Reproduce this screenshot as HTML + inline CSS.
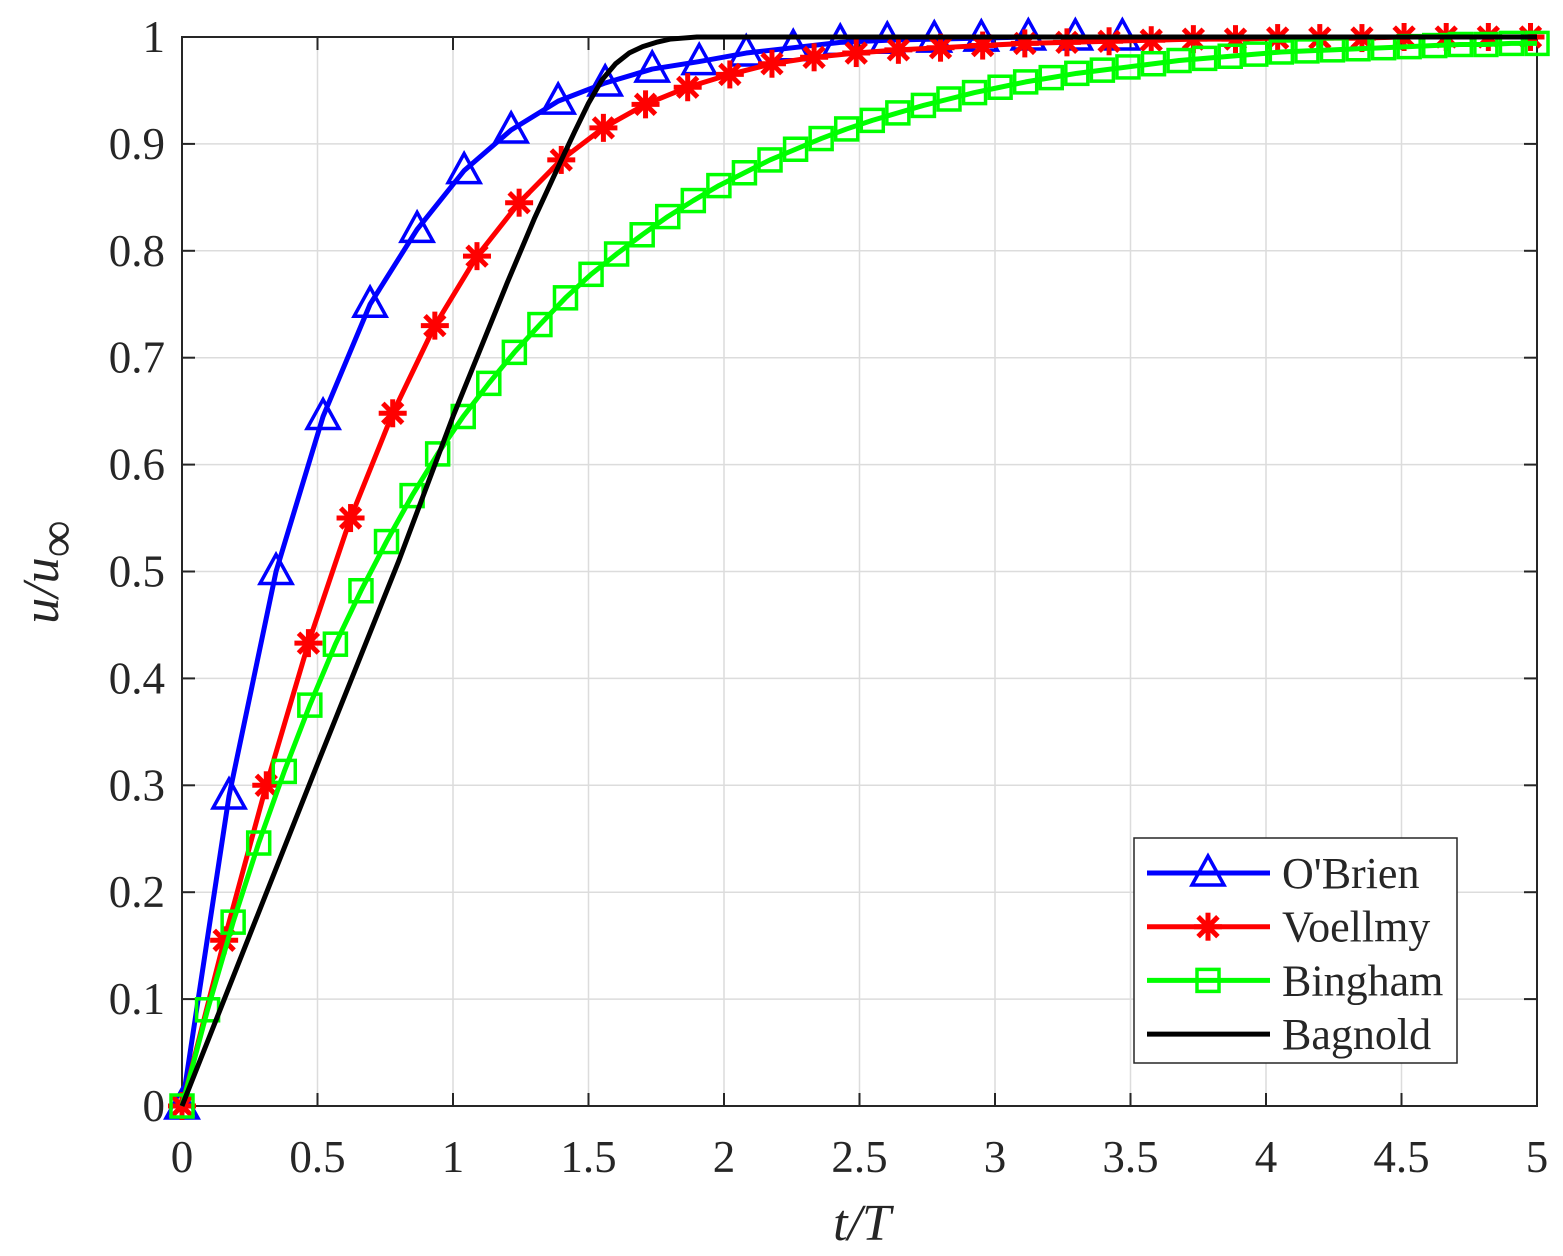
<!DOCTYPE html>
<html><head><meta charset="utf-8">
<style>
html,body{margin:0;padding:0;background:#fff;}
svg{display:block;}
text{font-family:"Liberation Serif",serif;fill:#262626;}
</style></head>
<body>
<svg id="chart" width="1563" height="1256"></svg>
<script>
const xTicks=[0,0.5,1,1.5,2,2.5,3,3.5,4,4.5,5];
const xTickLabels=["0","0.5","1","1.5","2","2.5","3","3.5","4","4.5","5"];
const yTicks=[0,0.1,0.2,0.3,0.4,0.5,0.6,0.7,0.8,0.9,1];
const yTickLabels=["0","0.1","0.2","0.3","0.4","0.5","0.6","0.7","0.8","0.9","1"];
const obrienStep=0.1735;
const obrienY=[0,.29,.50,.645,.75,.82,.875,.913,.94,.957,.97,.977,.985,.99,.995,.997,.998,.999,1,1,1];
const voellmyStep=0.1555;
const voellmyY=[0,.155,.30,.433,.55,.648,.73,.795,.845,.885,.915,.937,.953,.965,.975,.981,.985,.988,.99,.992,.994,.995,.996,.997,.998,.998,.999,.999,.999,1,1,1,1];
const binghamY=[0,.09,.172,.246,.313,.375,.432,.482,.528,.571,.61,.645,.676,.705,.731,.756,.778,.797,.815,.832,.847,.861,.873,.885,.895,.905,.914,.922,.929,.936,.942,.948,.953,.958,.962,.966,.969,.972,.975,.978,.98,.982,.984,.986,.987,.988,.989,.99,.991,.992,.993,.993,.994,.994];
const bagnoldX=[0,0.5,0.8,1,1.2,1.3,1.4,1.45,1.5,1.55,1.6,1.65,1.7,1.75,1.8,1.85,1.9,2,5];
const bagnoldY=[0,.32,.51,.645,.77,.83,.885,.912,.938,.96,.975,.985,.991,.995,.998,.999,1,1,1];

const NS="http://www.w3.org/2000/svg";
const svg=document.getElementById('chart');
const X0=182,X1=1537,Y0=1106,Y1=37;
const sx=v=>X0+(X1-X0)*v/5;
const sy=v=>Y0-(Y0-Y1)*v;
function mk(tag,attrs,parent){const e=document.createElementNS(NS,tag);for(const k in attrs)e.setAttribute(k,attrs[k]);(parent||svg).appendChild(e);return e;}

const grid=mk('g',{});


xTicks.forEach(t=>{mk('line',{x1:sx(t),x2:sx(t),y1:Y1,y2:Y0,stroke:'#dcdcdc','stroke-width':1.5},grid);});
yTicks.forEach(t=>{mk('line',{x1:X0,x2:X1,y1:sy(t),y2:sy(t),stroke:'#dcdcdc','stroke-width':1.5},grid);});

const ax=mk('g',{});


mk('rect',{x:X0,y:Y1,width:X1-X0,height:Y0-Y1,fill:'none',stroke:'#262626','stroke-width':2},ax);
xTicks.forEach((t,i)=>{
  mk('line',{x1:sx(t),x2:sx(t),y1:Y0,y2:Y0-13,stroke:'#262626','stroke-width':2},ax);
  mk('line',{x1:sx(t),x2:sx(t),y1:Y1,y2:Y1+13,stroke:'#262626','stroke-width':2},ax);
  const tx=mk('text',{x:sx(t),y:1172,'text-anchor':'middle','font-size':45},ax);
  
  
  tx.textContent=xTickLabels[i];
});
yTicks.forEach((t,i)=>{
  mk('line',{x1:X0,x2:X0+13,y1:sy(t),y2:sy(t),stroke:'#262626','stroke-width':2},ax);
  mk('line',{x1:X1,x2:X1-13,y1:sy(t),y2:sy(t),stroke:'#262626','stroke-width':2},ax);
  const tx=mk('text',{x:165,y:sy(t)+15,'text-anchor':'end','font-size':45},ax);
  
  
  tx.textContent=yTickLabels[i];
});
const xl=mk('text',{x:862,y:1240,'text-anchor':'middle','font-size':52,'font-style':'italic'});


xl.textContent='t/T';
const yl=mk('text',{x:0,y:0,'text-anchor':'middle','font-size':52,'font-style':'italic',transform:'translate(58,572) rotate(-90)'});


yl.innerHTML='u/u<tspan dy="16" font-size="52" font-style="normal">∞</tspan>';

function marker(type,x,y,color,g){
  if(type==='tri'){mk('polygon',{points:`${x},${y-17} ${x-16},${y+12} ${x+16},${y+12}`,fill:'none',stroke:color,'stroke-width':3.5},g);}
  else if(type==='sq'){mk('rect',{x:x-11,y:y-11,width:22,height:22,fill:'none',stroke:color,'stroke-width':3.5},g);}
  else if(type==='star'){
    for(let a=0;a<4;a++){const ang=a*Math.PI/4;const dx=14*Math.cos(ang),dy=14*Math.sin(ang);
      mk('line',{x1:x-dx,y1:y-dy,x2:x+dx,y2:y+dy,stroke:color,'stroke-width':5},g);}
  }
}
function series(name,xs,ys,color,type){
  const g=mk('g',{});
  
  
  mk('polyline',{points:xs.map((x,i)=>sx(x)+','+sy(ys[i])).join(' '),fill:'none',stroke:color,'stroke-width':5,'stroke-linejoin':'round'},g);
  if(type) xs.forEach((x,i)=>marker(type,sx(x),sy(ys[i]),color,g));
}
series('series-obrien',obrienY.map((_,i)=>i*obrienStep),obrienY,'#0000ff','tri');
series('series-voellmy',voellmyY.map((_,i)=>i*voellmyStep),voellmyY,'#ff0000','star');
series('series-bingham',binghamY.map((_,i)=>i*5/(binghamY.length-1)),binghamY,'#00ff00','sq');
series('series-bagnold',bagnoldX,bagnoldY,'#000000',null);

const lg=mk('g',{});


mk('rect',{x:1134,y:838,width:323,height:225,fill:'#fff',stroke:'#262626','stroke-width':1.5},lg);
const entries=[['O\'Brien','#0000ff','tri'],['Voellmy','#ff0000','star'],['Bingham','#00ff00','sq'],['Bagnold','#000000',null]];
entries.forEach((e,i)=>{
  const y=873+i*53.7;
  const eg=mk('g',{},lg);
  
  
  mk('line',{x1:1147,x2:1270,y1:y,y2:y,stroke:e[1],'stroke-width':5},eg);
  if(e[2]) marker(e[2],1208,y,e[1],eg);
  const t=mk('text',{x:1282,y:y+15,'font-size':44},eg);
  t.textContent=e[0];
});
</script>
</body></html>
